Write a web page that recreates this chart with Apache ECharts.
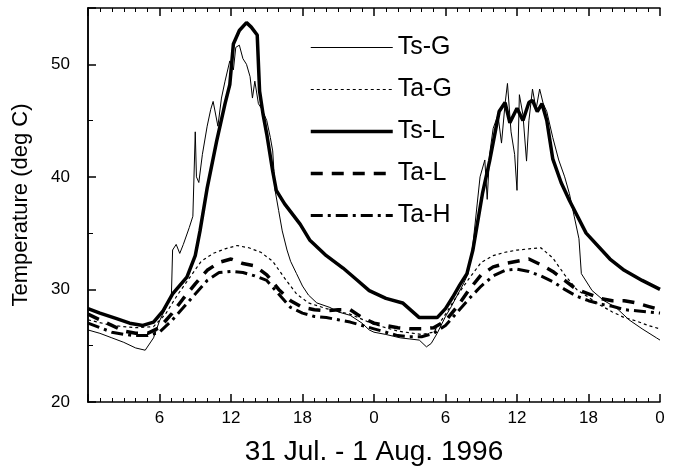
<!DOCTYPE html>
<html>
<head>
<meta charset="utf-8">
<script src="https://cdn.jsdelivr.net/npm/echarts@6/dist/echarts.min.js"></script>
<style>
  html, body { margin: 0; padding: 0; background: #fff; }
  #chart { width: 673px; height: 473px; }
</style>
</head>
<body>
<div id="chart"></div>
<script>
// hours since 0:00 on 31 Jul, temperature in deg C
const tsG = [[0, 26.4], [1, 26.1], [2, 25.7], [3, 25.3], [4, 24.8], [4.8, 24.6], [5.5, 25.7], [6, 27.2], [6.5, 28.3],
  [7, 29.5], [7.1, 33.5], [7.4, 34], [7.7, 33.2], [8, 34], [8.5, 35.5], [8.8, 36.5], [9, 44], [9.1, 40], [9.3, 39.5],
  [9.6, 42], [10, 44.5], [10.3, 46], [10.5, 46.7], [10.9, 44.5], [11.2, 47], [11.5, 48.5], [11.9, 50.3], [12.2, 49.5],
  [12.4, 51.5], [12.7, 51.7], [13, 50.5], [13.3, 50], [13.6, 48.9], [13.8, 47], [14, 48.5], [14.3, 46.5], [14.6, 46],
  [15, 45], [15.3, 43.5], [15.5, 42.3], [15.7, 38.8], [16, 37], [16.3, 35.2], [16.7, 33.5], [17, 32.5], [17.5, 31.4],
  [18, 30.3], [18.5, 29.5], [19.2, 28.8], [20.3, 28.4], [21, 28], [22, 27.7], [23, 27], [23.6, 26.4], [24, 26.2],
  [25, 26], [26.2, 25.7], [27, 25.6], [27.8, 25.5], [28.4, 24.9], [28.8, 25.2], [29.3, 26.1], [30, 27.6], [30.5, 28.5],
  [31, 29.5], [31.5, 30.5], [31.9, 31.4], [32.3, 34], [32.9, 40], [33.3, 41.5], [33.5, 38], [33.7, 42], [34, 44.3],
  [34.4, 45.5], [34.7, 43], [35, 46.5], [35.2, 48.3], [35.5, 44], [35.8, 42], [36, 38.8], [36.2, 47.3], [36.5, 45.5],
  [36.8, 41.4], [37, 45], [37.3, 47.8], [37.6, 46], [37.9, 47.8], [38.2, 46.5], [38.5, 45.8], [39, 43.5], [39.5, 41.5],
  [40, 40], [40.4, 38.5], [40.8, 36.5], [41.2, 34.5], [41.4, 31.4], [42.3, 29.9], [43.3, 29], [44.3, 28.4],
  [45.4, 27.3], [46.5, 26.5], [47.7, 25.7], [48, 25.5]]

const taG = [[0, 27.3], [2, 26.8], [4, 26.6], [5.5, 26.7], [6.5, 27.8], [7.5, 29.5], [8.5, 31], [9.5, 32.5],
  [10.5, 33.2], [11.5, 33.6], [12.5, 33.9], [13.5, 33.7], [14.5, 33.3], [15.5, 32.5], [16.5, 31], [17.5, 29.6],
  [18.5, 28.8], [20, 28.3], [22, 27.8], [24, 26.9], [26, 26.3], [28, 26], [29, 26.2], [30, 27.8], [31, 29.5], [32, 31],
  [33, 32.4], [34, 33], [35, 33.3], [36, 33.5], [37, 33.6], [38, 33.7], [39, 32.8], [40, 31.3], [41, 30], [42, 29.3],
  [43, 28.6], [44, 28], [45, 27.5], [46, 27.2], [47, 26.8], [48, 26.5]]

const tsL = [[0, 28.3], [1, 27.9], [2.4, 27.4], [3.5, 27], [4.6, 26.8], [5.5, 27.1], [6.3, 28.1], [7.1, 29.6],
  [8.3, 31.1], [9, 33], [9.4, 35.2], [10, 39], [10.8, 43.2], [11.5, 46.5], [11.9, 48.2], [12.2, 51.8], [12.7, 53],
  [13.3, 53.7], [13.7, 53.3], [14.2, 52.6], [14.4, 47.6], [14.7, 45.5], [15, 43.8], [15.5, 40.5], [15.8, 38.8],
  [16.5, 37.6], [17.8, 35.8], [18.6, 34.4], [20, 33], [21.4, 31.9], [22.5, 30.9], [23.6, 29.9], [25, 29.2],
  [26.4, 28.8], [27.8, 27.5], [29.3, 27.5], [30, 28.3], [30.6, 29.3], [31.2, 30.4], [31.8, 31.4], [32.3, 33.5],
  [33.1, 38.5], [33.7, 41.4], [34.5, 45.8], [35, 46.6], [35.4, 44.8], [36, 46.1], [36.5, 45], [37, 46.6],
  [37.3, 46.8], [37.7, 45.8], [38.1, 46.5], [38.5, 45], [39, 41.6], [39.7, 39.5], [40.4, 37.9], [41.8, 35],
  [43.8, 32.7], [45, 31.7], [46.5, 30.8], [48, 30]]

const taL = [[0, 27.8], [1, 27.3], [2, 26.8], [3, 26.3], [4, 26.1], [5, 26.1], [6, 26.6], [7, 27.8], [8, 29.2],
  [9, 30.5], [10, 31.7], [11, 32.4], [12, 32.7], [13, 32.3], [14, 32.1], [15, 31.3], [16, 30], [17, 29], [18, 28.4],
  [19, 28.2], [20, 28.1], [21, 28.2], [22, 28.2], [23, 27.5], [24, 27], [25, 26.8], [26, 26.6], [27, 26.5], [28, 26.5],
  [29, 26.6], [30, 27.2], [31, 28.5], [32, 30], [33, 31.3], [34, 32], [35, 32.3], [36, 32.5], [37, 32.7], [38, 32.2],
  [39, 31.6], [40, 30.8], [41, 30], [42, 29.6], [43, 29.2], [44, 29], [45, 29], [46, 28.8], [47, 28.5], [48, 28.2]]

const taH = [[0, 27], [1, 26.6], [2, 26.2], [3, 26], [4, 25.9], [5, 25.9], [6, 26.2], [7, 27.2], [8, 28.4], [9, 29.6],
  [10, 30.8], [11, 31.5], [12, 31.6], [13, 31.5], [14, 31.2], [15, 30.8], [16, 29.6], [17, 28.4], [18, 27.9],
  [19, 27.6], [20, 27.5], [21, 27.3], [22, 27.1], [23, 26.8], [24, 26.5], [25, 26.2], [26, 25.9], [27, 25.8],
  [28, 25.8], [29, 26.1], [30, 26.8], [31, 28], [32, 29.2], [33, 30.3], [34, 31.2], [35, 31.7], [36, 31.8], [37, 31.6],
  [38, 31.2], [39, 30.7], [40, 30], [41, 29.4], [42, 29], [43, 28.7], [44, 28.5], [45, 28.2], [46, 28.1], [47, 28],
  [48, 27.9]]

const seriesNames = ['Ts-G', 'Ta-G', 'Ts-L', 'Ta-L', 'Ta-H']
const yTicks = [20, 30, 40, 50]

const font = 'Liberation Sans, Arial, sans-serif'
const chart = echarts.init(document.getElementById('chart'), null, {renderer: 'canvas'})

// line look for each series, used by both the plot and the legend
const styles = {
  'Ts-G': {width: 1, type: 'solid'},
  'Ta-G': {width: 1.2, type: [3, 3]},
  'Ts-L': {width: 3.5, type: 'solid'},
  'Ta-L': {width: 3.5, type: [12, 9]},
  'Ta-H': {width: 3, type: [12, 5, 3, 5]}
}

function line (name, data) {
  return {
    name: name,
    type: 'line',
    data: data,
    symbol: 'none',
    showSymbol: false,
    smooth: false,
    lineStyle: {color: '#000', width: styles[name].width, type: styles[name].type},
    itemStyle: {color: '#000'}
  }
}

const xCommon = {
  type: 'value',
  min: 0,
  max: 48,
  interval: 6,
  axisLine: {show: true, lineStyle: {color: '#000', width: 1.5}},
  axisTick: {show: true, inside: true, length: 8, lineStyle: {color: '#000', width: 1.5}},
  minorTick: {show: true, splitNumber: 6, length: 4, lineStyle: {color: '#000'}},
  splitLine: {show: false}
}

const option = {
  animation: false,
  backgroundColor: '#fff',
  grid: {left: 88, right: 13, top: 8, bottom: 71},
  legend: {
    data: seriesNames.map(function (n) {
      return {
        name: n,
        itemStyle: {opacity: 0},
        lineStyle: {color: '#000', width: styles[n].width, type: styles[n].type}
      }
    }),
    orient: 'vertical',
    left: 304,
    top: 30,
    itemWidth: 82,
    itemHeight: 12,
    itemGap: 17,
    itemStyle: {opacity: 0},
    textStyle: {fontFamily: font, fontSize: 25, color: '#000', lineHeight: 25}
  },
  xAxis: [
    Object.assign({}, xCommon, {
      position: 'bottom',
      name: '31 Jul. - 1 Aug. 1996',
      nameLocation: 'middle',
      nameGap: 36,
      nameTextStyle: {fontFamily: font, fontSize: 28, color: '#000'},
      axisLabel: {
        fontFamily: font,
        fontSize: 17,
        color: '#000',
        margin: 8,
        formatter: function (v) { return v === 0 ? '' : String(v % 24) }
      }
    }),
    Object.assign({}, xCommon, {position: 'top', axisLabel: {show: false}})
  ],
  yAxis: [
    {
      type: 'value',
      min: 20,
      max: 55,
      interval: 10,
      position: 'left',
      name: 'Temperature (deg C)',
      nameLocation: 'middle',
      nameGap: 56,
      nameTextStyle: {fontFamily: font, fontSize: 22, color: '#000'},
      axisLine: {show: true, lineStyle: {color: '#000', width: 1.5}},
      axisTick: {show: true, inside: true, length: 8, lineStyle: {color: '#000', width: 1.5}},
      minorTick: {show: true, splitNumber: 2, length: 5, lineStyle: {color: '#000'}},
      splitLine: {show: false},
      axisLabel: {
        fontFamily: font,
        fontSize: 17,
        color: '#000',
        margin: 18,
        formatter: function (v) { return yTicks.indexOf(v) >= 0 ? String(v) : '' }
      }
    },
    {
      type: 'value',
      min: 20,
      max: 55,
      interval: 10,
      position: 'right',
      axisLine: {show: true, lineStyle: {color: '#000', width: 1.5}},
      axisTick: {show: false},
      axisLabel: {show: false},
      splitLine: {show: false}
    }
  ],
  series: seriesNames.map(function (n, i) {
    return line(n, [tsG, taG, tsL, taL, taH][i])
  })
}

chart.setOption(option)
</script>
</body>
</html>
